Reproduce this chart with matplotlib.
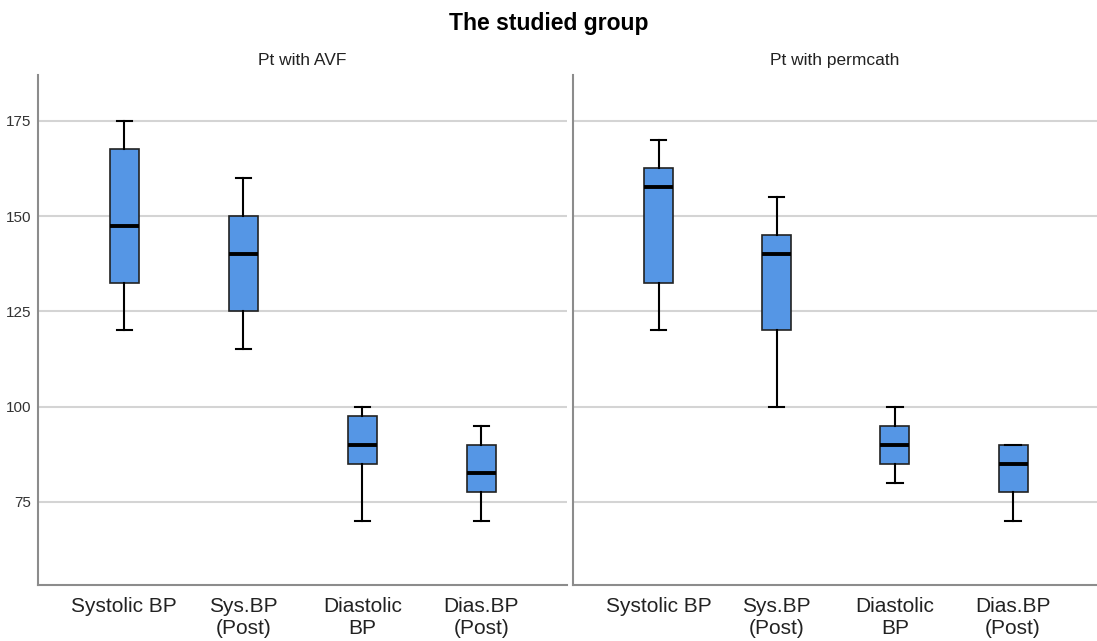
import matplotlib
matplotlib.use('Agg')
import matplotlib.pyplot as plt

plt.rcParams['font.family'] = ['Liberation Sans', 'DejaVu Sans']

labels = ['Systolic BP', 'Sys.BP\n(Post)', 'Diastolic\nBP', 'Dias.BP\n(Post)']
panels = ['Pt with AVF', 'Pt with permcath']

# whisker low, q1, median, q3, whisker high
avf_low = [120, 115, 70, 70]
avf_q1 = [132.5, 125, 85, 77.5]
avf_med = [147.5, 140, 90, 82.5]
avf_q3 = [167.5, 150, 97.5, 90]
avf_high = [175, 160, 100, 95]

perm_low = [120, 100, 80, 70]
perm_q1 = [132.5, 120, 85, 77.5]
perm_med = [157.5, 140, 90, 85]
perm_q3 = [162.5, 145, 95, 90]
perm_high = [170, 155, 100, 90]

yticks = [75, 100, 125, 150, 175]


def make_stats(low, q1, med, q3, high):
    out = []
    for i in range(len(low)):
        out.append(dict(whislo=low[i], q1=q1[i], med=med[i], q3=q3[i],
                        whishi=high[i], fliers=[], label=labels[i]))
    return out


fig = plt.figure(figsize=(10.97, 6.41), dpi=100)
ax1 = fig.add_axes([38 / 1097, 1 - 585 / 641, 529 / 1097, 510 / 641])
ax2 = fig.add_axes([573 / 1097, 1 - 585 / 641, 524 / 1097, 510 / 641])

data = [make_stats(avf_low, avf_q1, avf_med, avf_q3, avf_high),
        make_stats(perm_low, perm_q1, perm_med, perm_q3, perm_high)]

for k, ax in enumerate([ax1, ax2]):
    ax.bxp(data[k], positions=[1, 2, 3, 4], widths=0.245, patch_artist=True,
           showfliers=False,
           boxprops=dict(facecolor='#5596E5', edgecolor='#222222', linewidth=1.2),
           medianprops=dict(color='black', linewidth=2.8),
           whiskerprops=dict(color='black', linewidth=1.5),
           capprops=dict(color='black', linewidth=1.5),
           capwidths=0.13, zorder=3)
    ax.set_xlim(0.275, 4.72 if k == 0 else 4.71)
    ax.set_ylim(53.2, 187)
    ax.set_yticks(yticks)
    ax.grid(axis='y', color='#d4d4d4', linewidth=1.5, zorder=0)
    ax.set_axisbelow(True)
    for s in ['top', 'right']:
        ax.spines[s].set_visible(False)
    for s in ['left', 'bottom']:
        ax.spines[s].set_color('#8c8c8c')
        ax.spines[s].set_linewidth(1.5)
    ax.tick_params(axis='y', length=0, labelsize=11, colors='#333333', pad=5)
    ax.tick_params(axis='x', length=0, labelsize=15, colors='#222222', pad=9)
    ax.set_xticklabels(labels, linespacing=1.2)
    ax.set_title(panels[k], fontsize=12.5, color='#222222', pad=7)

ax2.tick_params(axis='y', labelleft=False)

fig.suptitle('The studied group', fontsize=16.5, fontweight='bold', y=0.982)

fig.savefig('out.png', dpi=100)
